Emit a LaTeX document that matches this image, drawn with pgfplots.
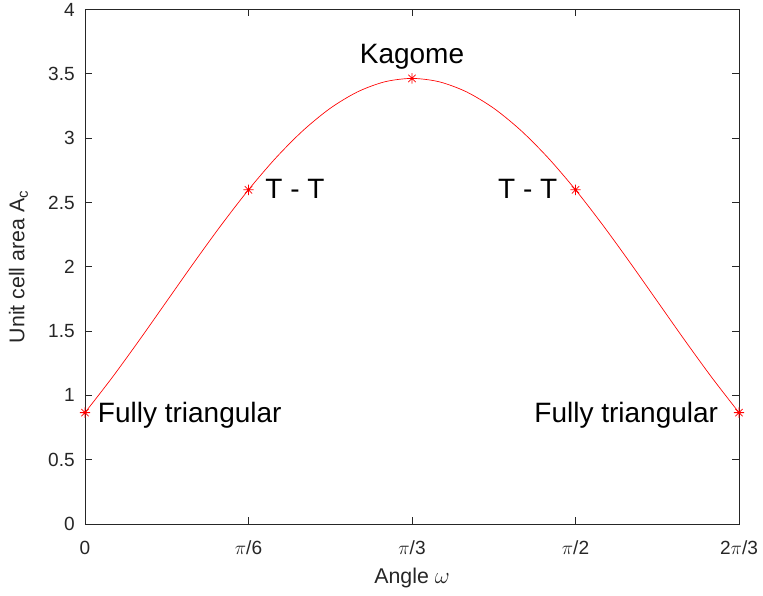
\documentclass[border=0pt]{standalone}
\usepackage{pgfplots}
\pgfplotsset{compat=1.18}
\usepackage{fontspec}
\setmainfont{Liberation Sans}
\definecolor{axgray}{rgb}{0.15,0.15,0.15}
% eight-spoke asterisk marker
\pgfdeclareplotmark{mstar}{%
  \pgfpathmoveto{\pgfqpoint{-\pgfplotmarksize}{0pt}}%
  \pgfpathlineto{\pgfqpoint{\pgfplotmarksize}{0pt}}%
  \pgfpathmoveto{\pgfqpoint{0pt}{-\pgfplotmarksize}}%
  \pgfpathlineto{\pgfqpoint{0pt}{\pgfplotmarksize}}%
  \pgfpathmoveto{\pgfqpoint{-.7071\pgfplotmarksize}{-.7071\pgfplotmarksize}}%
  \pgfpathlineto{\pgfqpoint{.7071\pgfplotmarksize}{.7071\pgfplotmarksize}}%
  \pgfpathmoveto{\pgfqpoint{-.7071\pgfplotmarksize}{.7071\pgfplotmarksize}}%
  \pgfpathlineto{\pgfqpoint{.7071\pgfplotmarksize}{-.7071\pgfplotmarksize}}%
  \pgfusepathqstroke}
\begin{document}
\begin{tikzpicture}[x=1pt,y=1pt]
\begin{axis}[
  scale only axis,
  width=490.5pt, height=385.9pt,
  xmin=0, xmax=120, ymin=0, ymax=4,
  xtick={0,30,60,90,120},
  xticklabels={0,$\pi$/6,$\pi$/3,$\pi$/2,2$\pi$/3},
  ytick={0,0.5,...,4},
  yticklabel style={/pgf/number format/fixed, anchor=east, inner sep=0pt, xshift=-7.5pt},
  xticklabel style={anchor=north, inner sep=0pt, yshift=-12.5pt},
  axis line style={axgray, line width=0.5pt},
  tick style={axgray, line width=0.5pt},
  major tick length=5pt,
  tick align=inside,
  every tick label/.style={font=\fontsize{14.3}{16}\selectfont, text=axgray},
  xlabel={Angle $\omega$},
  ylabel={Unit cell area A$_\mathrm{c}$},
  label style={font=\fontsize{16}{18}\selectfont, text=axgray, inner sep=0pt},
  xlabel style={at={(axis description cs:0.5,0)}, anchor=base, yshift=-44.25pt},
  ylabel style={at={(axis description cs:0,0.5)}, anchor=center, yshift=49.9pt},
  /pgf/number format/assume math mode=true,
]
% area of the unit cell as the angle varies
\addplot[red, line width=0.5pt, smooth] coordinates {
  (0,0.8660) (5,1.1397) (10,1.4313) (15,1.7321) (20,2.0328) (25,2.3244)
  (30,2.5981) (35,2.8454) (40,3.0588) (45,3.2321) (50,3.3596) (55,3.4378)
  (60,3.4641) (65,3.4378) (70,3.3596) (75,3.2321) (80,3.0588) (85,2.8454)
  (90,2.5981) (95,2.3244) (100,2.0328) (105,1.7321) (110,1.4313) (115,1.1397)
  (120,0.8660)
};
% special configurations
\addplot[red, only marks, mark=mstar, mark size=3.9pt, mark options={line width=0.6pt}] coordinates {
  (0,0.8660) (30,2.5981) (60,3.4641) (90,2.5981) (120,0.8660)
};
\begin{scope}[every node/.style={font=\fontsize{21}{24}\selectfont, inner sep=0pt}]
\node[anchor=base west, xshift=9.5pt, yshift=-7.5pt] at (axis cs:0,0.8660) {Fully triangular};
\node[anchor=base west, xshift=12.5pt, yshift=-6.75pt] at (axis cs:30,2.5981) {T - T};
\node[anchor=base, yshift=11.25pt] at (axis cs:60,3.4641) {Kagome};
\node[anchor=base east, xshift=-13.5pt, yshift=-6.75pt] at (axis cs:90,2.5981) {T - T};
\node[anchor=base east, xshift=-15.5pt, yshift=-7.5pt] at (axis cs:120,0.8660) {Fully triangular};
\end{scope}
\end{axis}
\path (current axis.south west) ++(-63.75pt,-53.25pt);
\path (current axis.north east) ++(18pt,7.125pt);
\end{tikzpicture}
\end{document}
